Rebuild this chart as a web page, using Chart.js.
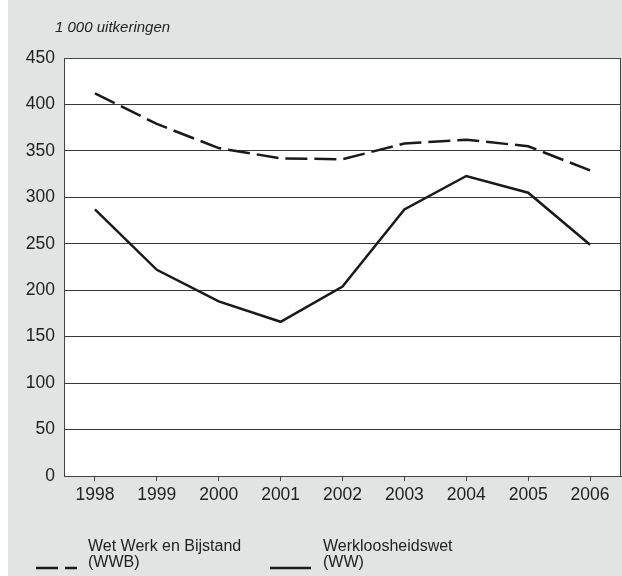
<!DOCTYPE html>
<html>
<head>
<meta charset="utf-8">
<script src="https://cdn.jsdelivr.net/npm/chart.js@4/dist/chart.umd.min.js"></script>
<style>
  body { margin: 0; background: #ffffff; }
  #wrap { position: absolute; left: 8px; top: 0; width: 614px; height: 576px; background: #e2e3e3; }
</style>
</head>
<body>
<div id="wrap"><canvas id="grafiek" width="614" height="576"></canvas></div>
<script>
// jaren en aantallen (x 1 000 uitkeringen)
const jaren = ['1998', '1999', '2000', '2001', '2002', '2003', '2004', '2005', '2006'];
const wwb = [412, 379, 353, 342, 341, 358, 362, 355, 329];
const ww = [287, 222, 188, 166, 204, 287, 323, 305, 249];
const eenheid = '1 000 uitkeringen';
const legendaTekst = [['Wet Werk en Bijstand', '(WWB)'], ['Werkloosheidswet', '(WW)']];

const lijnKleur = '#1a1a1a';
const lettertype = '"Liberation Sans", Arial, sans-serif';

// witte achtergrond van het plotvlak, kader, eenheid en legenda
const extra = {
    id: 'extra',
    beforeDraw(chart) {
        const a = chart.chartArea;
        const ctx = chart.ctx;
        ctx.save();
        ctx.fillStyle = '#ffffff';
        ctx.fillRect(a.left, a.top, a.right - a.left, a.bottom - a.top);
        ctx.restore();
    },
    afterDraw(chart) {
        const a = chart.chartArea;
        const ctx = chart.ctx;
        ctx.save();
        ctx.strokeStyle = '#444';
        ctx.lineWidth = 1;
        ctx.strokeRect(a.left + 0.5, a.top + 0.5, a.right - a.left - 1, a.bottom - a.top);

        ctx.fillStyle = '#222';
        ctx.font = 'italic 15px ' + lettertype;
        ctx.textBaseline = 'alphabetic';
        ctx.fillText(eenheid, 47, 32);

        // legenda
        const posities = [{ lx: 28, tx: 80 }, { lx: 262, tx: 315 }];
        chart.data.datasets.forEach((ds, i) => {
            const p = posities[i];
            ctx.strokeStyle = ds.borderColor;
            ctx.lineWidth = ds.borderWidth;
            ctx.setLineDash(ds.borderDash || []);
            ctx.beginPath();
            ctx.moveTo(p.lx, 568);
            ctx.lineTo(p.lx + 41, 568);
            ctx.stroke();
            ctx.setLineDash([]);
            ctx.fillStyle = '#222';
            ctx.font = '16px ' + lettertype;
            ctx.fillText(legendaTekst[i][0], p.tx, 551);
            ctx.fillText(legendaTekst[i][1], p.tx, 567);
        });
        ctx.restore();
    }
};

new Chart(document.getElementById('grafiek'), {
    type: 'line',
    data: {
        labels: jaren,
        datasets: [{
            label: 'WWB',
            data: wwb,
            borderColor: lijnKleur,
            borderWidth: 2.5,
            borderDash: [22, 7],
            pointRadius: 0,
            tension: 0
        }, {
            label: 'WW',
            data: ww,
            borderColor: lijnKleur,
            borderWidth: 2.5,
            pointRadius: 0,
            tension: 0
        }]
    },
    options: {
        responsive: false,
        animation: false,
        layout: { padding: { top: 58, right: 1, left: 0, bottom: 0 } },
        plugins: {
            legend: { display: false },
            tooltip: { enabled: false }
        },
        scales: {
            x: {
                offset: true,
                afterFit(s) { s.height = 100; },
                grid: { drawOnChartArea: false, drawTicks: true, tickLength: 5, color: '#444' },
                border: { display: true, color: '#444' },
                ticks: { color: '#222', padding: 4, font: { size: 17.5, family: lettertype } }
            },
            y: {
                min: 0,
                max: 450,
                afterFit(s) { s.width = 56; },
                grid: { drawTicks: false, color: '#3a3a3a', lineWidth: 1 },
                border: { display: true, color: '#444' },
                ticks: { stepSize: 50, color: '#222', padding: 9, font: { size: 17.5, family: lettertype } }
            }
        }
    },
    plugins: [extra]
});
</script>
</body>
</html>
